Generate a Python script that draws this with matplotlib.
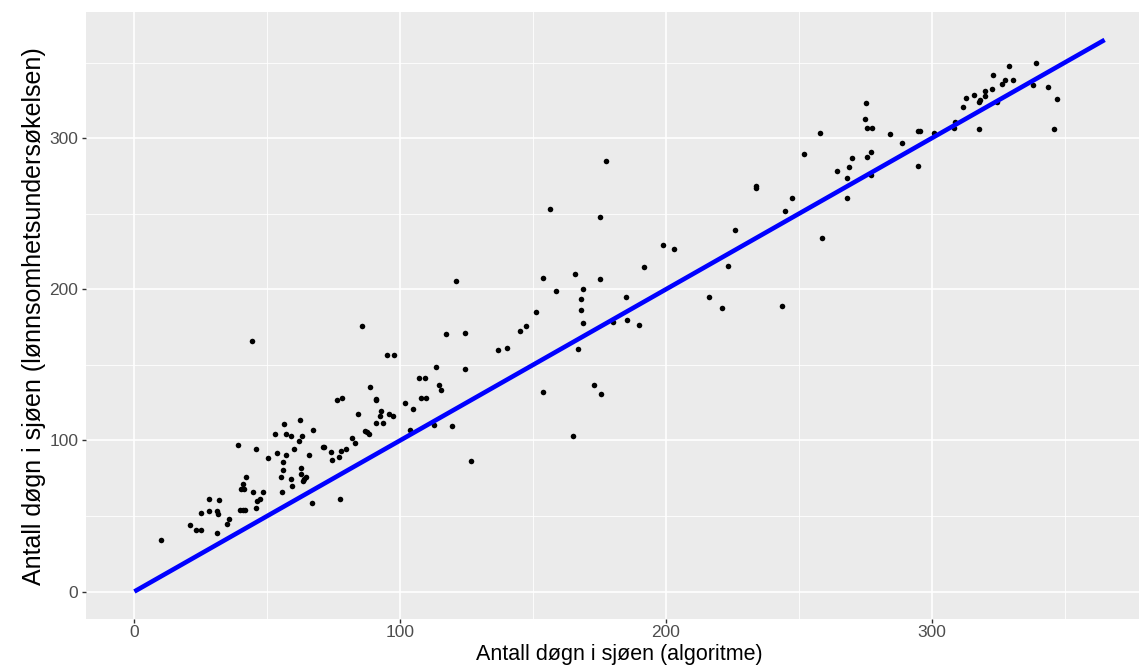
import matplotlib
matplotlib.use("Agg")
import matplotlib.pyplot as plt
import numpy as np

# days at sea per vessel: algorithm estimate vs. survey figure
algoritme = [
    10, 21, 23, 25, 31, 35, 35.6, 25, 28, 31, 31.3, 28, 32, 39, 45.6, 42, 41, 40, 41.4,
    44.5, 48.4, 46.3, 47.3, 45.6, 39.7, 40.9, 41.6, 50.4, 52.8, 56.4, 57.2, 58.8, 62.4,
    63, 67.2, 62.1, 60.1, 53.7, 56.9, 56, 65.7, 56, 62.8, 55.3, 62.7, 64.5, 63.8, 63.3,
    58.8, 59.3, 55.7, 66.8, 71, 71.5, 74, 77.6, 79.6, 74.4, 76.9, 77.3, 76.1, 78.1, 44.4,
    85.7, 95.2, 97.7, 117.3, 124.4, 136.9, 113.3, 124.2, 106.9, 109.3, 114.6, 115.4,
    88.6, 107.8, 109.8, 90.9, 90.9, 101.7, 104.9, 92.9, 92.4, 95.6, 97.3, 84, 90.9, 93.7,
    86.8, 87.4, 88.2, 103.7, 112.6, 119.6, 126.6, 82, 82.9,
    177.4, 156.2, 175.1, 120.9, 153.8, 165.8, 175.3, 191.8, 158.6, 168.9, 168.2, 168.2,
    168.9, 185, 179.9, 185.4, 189.8, 151, 144.9, 147.4, 140.2, 166.9, 153.8, 173, 175.5,
    165.1,
    258, 251.9, 233.8, 233.8, 247.5, 244.6, 225.9, 258.7, 198.7, 203.1, 223.5, 216.3,
    221, 243.5, 264.2, 268.7, 270, 267.9, 267.9, 275.6, 277.1, 277.1, 275.6, 277.6,
    274.7, 275.4, 284.4, 288.8,
    294.8, 295.7, 294.8, 300.7, 308.4, 308.7, 311.6, 312.7, 316, 318, 317.6, 317.6, 320,
    320, 323.1, 322.8, 324.4, 326.4, 327.7, 330.4, 329.2, 337.9, 339.2, 343.7, 346.9, 346,
]
undersokelse = [
    34, 44, 41, 41, 38.5, 45, 48, 52, 53.5, 53, 51, 61, 60.5, 97, 94, 76, 71, 67.5, 68,
    66, 66, 60, 61, 55, 54, 54, 54, 88.6, 104, 111, 104.5, 103, 113.5,
    103, 107, 99.6, 94.3, 91.7, 90, 86, 90, 80.4, 82, 76, 78, 76, 74.5, 73,
    74.5, 70, 66, 58.4, 95.4, 95.4, 92.5, 93, 94.3, 87, 89, 61, 126.5, 128, 165.6,
    175.5, 156.7, 156.7, 170.6, 171.3, 159.6, 148.6, 147.3, 141.5, 141.5, 136.5, 133.4,
    135, 128, 128, 127.4, 126.5, 124.8, 120.6, 119.5, 116.4, 117.7, 116.4, 117.7, 111.3, 111.3,
    106.4, 105.4, 104, 107, 110, 109.5, 86.2, 101.6, 98.5,
    285, 253, 247.6, 205.7, 207.5, 210.3, 206.8, 214.6, 198.7, 200.4, 193.4, 186.3,
    177.7, 194.7, 178.4, 179.5, 176.6, 185.2, 172.4, 175.5, 161.4, 160.3, 131.8, 136.5, 130.5,
    103.1,
    303.4, 289.5, 268.4, 266.8, 260.4, 251.8, 239, 233.7, 229.5, 226.7, 215.6, 194.7,
    187.6, 188.7, 278.5, 280.7, 286.7, 273.9, 260.4, 287.8, 290.7, 275.6, 306.5, 306.5,
    312.5, 323.5, 303, 296.6,
    304.8, 304.8, 281.4, 303.6, 306.5, 310.7, 320.4, 326.8, 328.6, 325.5, 323.8, 305.9, 331.4,
    327.9, 342, 332.6, 323.8, 335.7, 338.5, 338.5, 347.8, 335, 349.6, 333.7, 325.7, 306.3,
]

# reference line y = x over a full year
linje = [0, 365]

major = [0, 100, 200, 300]
minor = [50, 150, 250, 350]

plt.rcParams["font.family"] = ["Liberation Sans", "DejaVu Sans"]

fig = plt.figure(figsize=(11.39, 6.69), dpi=100)
ax = fig.add_axes([0.0754, 0.0746, 0.937, 0.907])
ax.set_facecolor("#EBEBEB")
for s in ax.spines.values():
    s.set_visible(False)

ax.set_xlim(-18.25, 383.25)
ax.set_ylim(-18.25, 383.25)
ax.set_xticks(major)
ax.set_yticks(major)
ax.set_xticks(minor, minor=True)
ax.set_yticks(minor, minor=True)
ax.grid(which="major", color="white", lw=1.2)
ax.grid(which="minor", color="white", lw=0.6)
ax.set_axisbelow(True)
ax.tick_params(which="major", length=3, width=1, color="#333333",
               labelcolor="#4D4D4D", labelsize=12.5, pad=1.5)
ax.tick_params(axis="y", which="major", pad=2.5)
ax.tick_params(which="minor", length=0)

ax.scatter(algoritme, undersokelse, s=16, color="black", linewidths=0, zorder=3)
ax.plot(linje, linje, color="blue", lw=3.3, solid_capstyle="butt", zorder=4)

ax.set_xlabel("Antall døgn i sjøen (algoritme)", fontsize=15.5)
ax.xaxis.set_label_coords(0.5, -0.0415)
ax.xaxis.label.set_va("top")
ax.set_ylabel("Antall døgn i sjøen (lønnsomhetsundersøkelsen)", fontsize=18, labelpad=2)

fig.savefig("out.png", dpi=100)
